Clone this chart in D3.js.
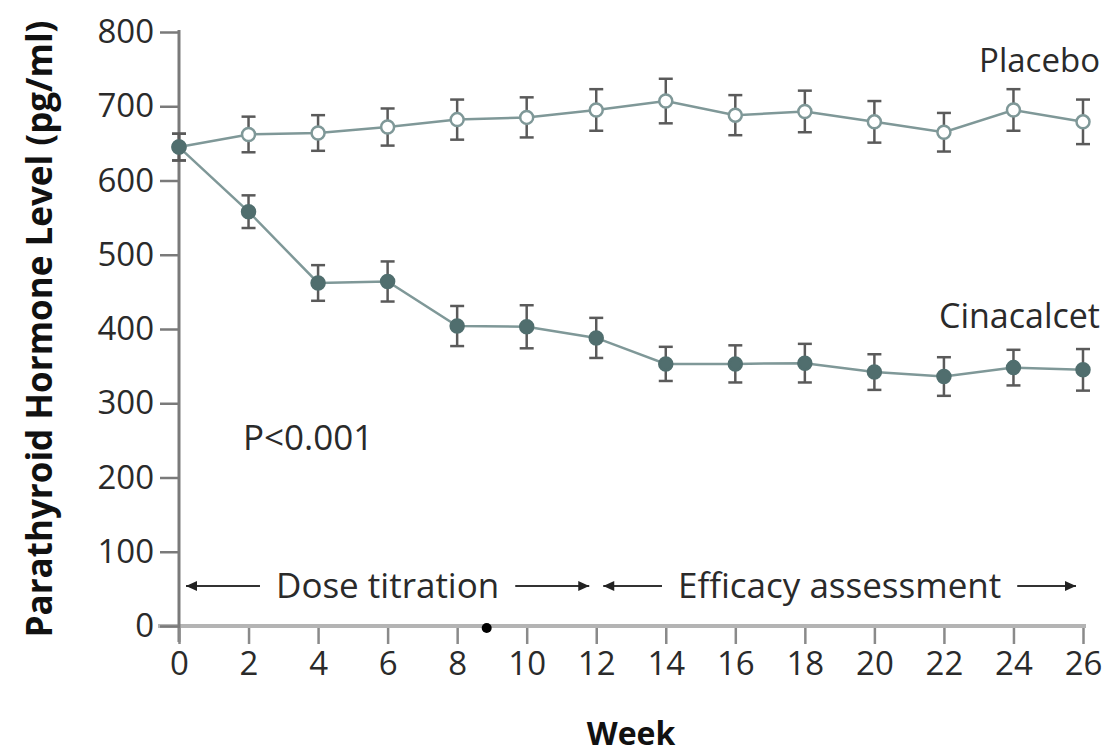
<!DOCTYPE html>
<html>
<head>
<meta charset="utf-8">
<script src="https://cdn.jsdelivr.net/npm/d3@7"></script>
<style>
  html, body { margin: 0; padding: 0; background: #fff; }
  svg { display: block; }
  text { font-family: "Open Sans", sans-serif; }
</style>
</head>
<body>
<svg id="chart" width="1109" height="755"></svg>
<script>
// ---- data ----
const weeks = [0, 2, 4, 6, 8, 10, 12, 14, 16, 18, 20, 22, 24, 26];
const placeboMean = [645, 662, 664, 672, 682, 685, 695, 707, 688, 693, 679, 665, 695, 679];
const placeboErr  = [18, 24, 24, 25, 27, 27, 28, 30, 27, 28, 28, 26, 28, 30];
const cinacalcetMean = [645, 558, 462, 464, 404, 403, 388, 353, 353, 354, 342, 336, 348, 345];
const cinacalcetErr  = [18, 22, 24, 27, 27, 29, 27, 23, 25, 26, 24, 26, 24, 28];
const yTicks = [0, 100, 200, 300, 400, 500, 600, 700, 800];
const xTicks = [0, 2, 4, 6, 8, 10, 12, 14, 16, 18, 20, 22, 24, 26];
const markerWeek = 8.85;
const phases = [
  { label: "Dose titration", start: 0, end: 12 },
  { label: "Efficacy assessment", start: 12, end: 26 }
];

// ---- layout ----
const svg = d3.select("#chart");
const x = d3.scaleLinear().domain([0, 26]).range([179, 1083]);
const y = d3.scaleLinear().domain([0, 800]).range([626, 32]);

const lineCol = "#7f9898";
const darkCol = "#506e6e";
const errCol = "#5a5a5a";
const axisCol = "#7a7a7a";
const textCol = "#2a2a2a";

// x axis line (grey, thick)
svg.append("line")
  .attr("x1", 158).attr("x2", 1086)
  .attr("y1", y(0)).attr("y2", y(0))
  .attr("stroke", "#b4b4b4").attr("stroke-width", 4);

// y axis
const yAxis = d3.axisLeft(y).tickValues(yTicks).tickSize(19).tickPadding(6).tickFormat(d3.format("d"));
const gy = svg.append("g").attr("transform", `translate(${x(0)},0)`).call(yAxis);
gy.select(".domain").remove();
gy.selectAll(".tick line").attr("stroke", axisCol).attr("stroke-width", 2.5);
gy.selectAll(".tick text").attr("fill", textCol).style("font-size", "33px").attr("font-family", "Open Sans");
svg.append("line")
  .attr("x1", x(0)).attr("x2", x(0))
  .attr("y1", y(800) - 2).attr("y2", y(0) + 16)
  .attr("stroke", axisCol).attr("stroke-width", 3);

// x axis ticks
const xAxis = d3.axisBottom(x).tickValues(xTicks).tickSize(16).tickPadding(8).tickFormat(d3.format("d"));
const gx = svg.append("g").attr("transform", `translate(0,${y(0) + 2})`).call(xAxis);
gx.select(".domain").remove();
gx.selectAll(".tick line").attr("stroke", "#8a8a8a").attr("stroke-width", 2.5);
gx.selectAll(".tick text").attr("fill", textCol).style("font-size", "33px").attr("font-family", "Open Sans");

// small black dot on axis
svg.append("circle").attr("cx", x(markerWeek)).attr("cy", y(0) + 2).attr("r", 5).attr("fill", "#000");

// axis titles
svg.append("text")
  .attr("transform", `translate(52,${329}) rotate(-90)`)
  .attr("text-anchor", "middle")
  .attr("fill", "#111")
  .style("font-size", "35px").style("font-weight", "bold")
  .text("Parathyroid Hormone Level (pg/ml)");
svg.append("text")
  .attr("x", 631).attr("y", 745)
  .attr("text-anchor", "middle")
  .attr("fill", "#111")
  .style("font-size", "32px").style("font-weight", "bold")
  .text("Week");

// phase annotations
const phaseY = 586;
const pad = 7;
const arrowHead = (g, xTip, dir) => {
  g.append("path")
    .attr("d", `M${xTip},${phaseY} l${-dir * 11},-5 l0,10 Z`)
    .attr("fill", "#222");
};
phases.forEach(p => {
  const x0 = x(p.start) + pad, x1 = x(p.end) - pad;
  const g = svg.append("g");
  const t = g.append("text")
    .attr("x", (x0 + x1) / 2).attr("y", phaseY + 12)
    .attr("text-anchor", "middle").attr("fill", textCol)
    .style("font-size", "35px")
    .text(p.label);
  const w = t.node().getComputedTextLength();
  const tc = (x0 + x1) / 2;
  g.append("line").attr("x1", x0).attr("x2", tc - w / 2 - 16)
    .attr("y1", phaseY).attr("y2", phaseY).attr("stroke", "#333").attr("stroke-width", 2);
  g.append("line").attr("x1", tc + w / 2 + 16).attr("x2", x1)
    .attr("y1", phaseY).attr("y2", phaseY).attr("stroke", "#333").attr("stroke-width", 2);
  arrowHead(g, x0, -1);
  arrowHead(g, x1, 1);
});

// series
function drawSeries(mean, err, filled) {
  const pts = weeks.map((w, i) => ({ w, m: mean[i], e: err[i] }));
  const line = d3.line().x(d => x(d.w)).y(d => y(d.m));
  svg.append("path").datum(pts).attr("d", line)
    .attr("fill", "none").attr("stroke", lineCol).attr("stroke-width", 2.5);
  const g = svg.append("g");
  pts.forEach(d => {
    g.append("line").attr("x1", x(d.w)).attr("x2", x(d.w))
      .attr("y1", y(d.m - d.e)).attr("y2", y(d.m + d.e))
      .attr("stroke", errCol).attr("stroke-width", 2.5);
    [d.m - d.e, d.m + d.e].forEach(v => {
      g.append("line").attr("x1", x(d.w) - 7).attr("x2", x(d.w) + 7)
        .attr("y1", y(v)).attr("y2", y(v))
        .attr("stroke", errCol).attr("stroke-width", 2.5);
    });
  });
  g.selectAll("circle").data(pts).join("circle")
    .attr("cx", d => x(d.w)).attr("cy", d => y(d.m)).attr("r", 6.5)
    .attr("fill", filled ? darkCol : "#fff")
    .attr("stroke", filled ? darkCol : lineCol).attr("stroke-width", 2.5);
}
drawSeries(placeboMean, placeboErr, false);
drawSeries(cinacalcetMean, cinacalcetErr, true);

// series labels
svg.append("text").attr("x", 1100).attr("y", 72).attr("text-anchor", "end")
  .attr("fill", textCol).style("font-size", "33px").text("Placebo");
svg.append("text").attr("x", 1100).attr("y", 328).attr("text-anchor", "end")
  .attr("fill", textCol).style("font-size", "34px").text("Cinacalcet");
svg.append("text").attr("x", 243).attr("y", 450)
  .attr("fill", textCol).style("font-size", "35px").text("P<0.001");
</script>
</body>
</html>
